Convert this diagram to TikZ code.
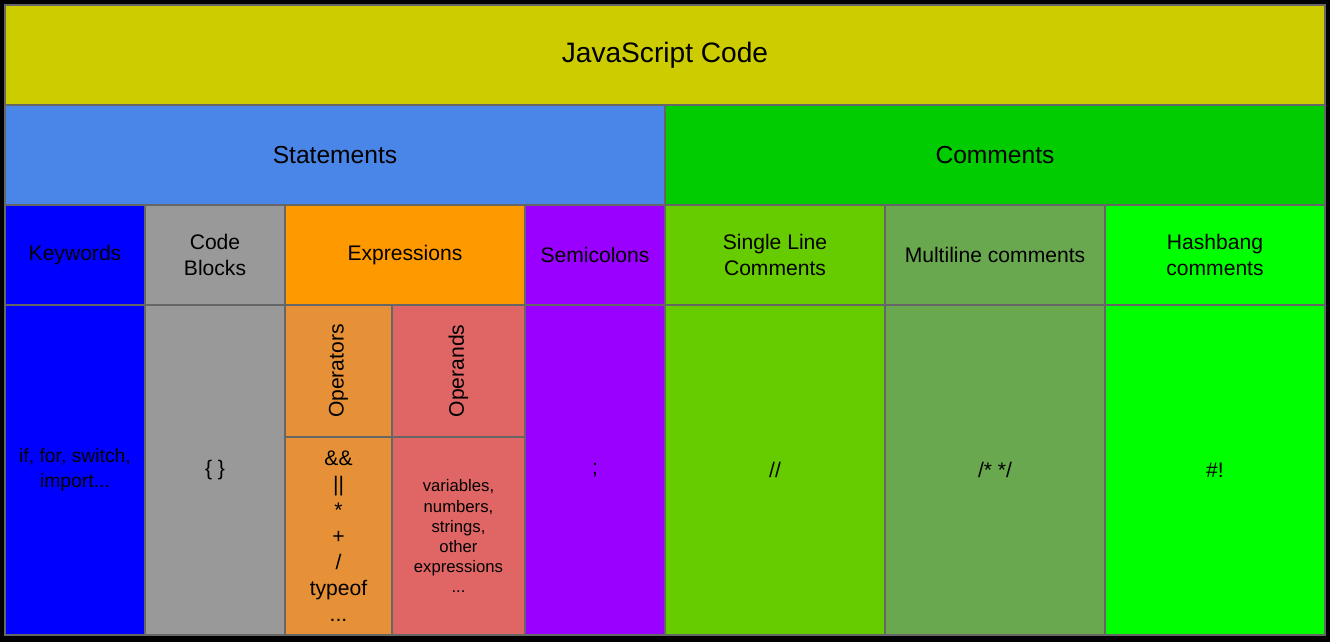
\documentclass[tikz,border=0pt]{standalone}
\usepackage{fontspec}
\setmainfont{Liberation Sans}
\usetikzlibrary{positioning}
\definecolor{cellborder}{HTML}{666666}
\definecolor{jsyellow}{HTML}{CCCC00}
\definecolor{stmtblue}{HTML}{4A86E8}
\definecolor{commgreen}{HTML}{00CC00}
\definecolor{kwblue}{HTML}{0000FF}
\definecolor{blockgray}{HTML}{999999}
\definecolor{exorange}{HTML}{FF9900}
\definecolor{semipurple}{HTML}{9900FF}
\definecolor{slgreen}{HTML}{66CC00}
\definecolor{mlgreen}{HTML}{6AA84F}
\definecolor{hbgreen}{HTML}{00FF00}
\definecolor{oporange}{HTML}{E69138}
\definecolor{opdred}{HTML}{E06666}

\begin{document}
\begin{tikzpicture}
		[   cell/.style={draw=cellborder,line width=1.1pt,fill=#1,inner sep=2pt,align=center,
			font=\fontsize{12}{14.8}\selectfont},
		]
		\tikzset{big text/.style={font=\fontsize{#1}{#1}\selectfont}}
		% black frame
		\fill[black] (0,0) rectangle (26.6,-12.84);
		\useasboundingbox (0,0) rectangle (26.6,-12.84);
		
		\node[cell=jsyellow,big text=16,minimum width=26.4cm,minimum height=2cm] (js) at (13.3,-1.1) {JavaScript Code};
		
		\node[cell=stmtblue,big text=14,minimum width=13.2cm,minimum height=2cm] (stmt) at (6.7,-3.1) {Statements};
		\node[cell=commgreen,big text=14,minimum width=13.2cm,minimum height=2cm] (comm) at (19.9,-3.1) {Comments};
		
		\node[cell=kwblue,minimum width=2.8cm,minimum height=2cm] (kw) at (1.5,-5.1) {Keywords};
		\node[cell=blockgray,minimum width=2.8cm,minimum height=2cm] (cb) at (4.3,-5.1) {Code\\Blocks};
		\node[cell=exorange,minimum width=4.8cm,minimum height=2cm] (ex) at (8.1,-5.1) {Expressions};
		\node[cell=semipurple,minimum width=2.8cm,minimum height=2cm] (semi) at (11.9,-5.1) {Semicolons};
		\node[cell=slgreen,minimum width=4.4cm,minimum height=2cm] (sl) at (15.5,-5.1) {Single Line\\Comments};
		\node[cell=mlgreen,minimum width=4.4cm,minimum height=2cm] (ml) at (19.9,-5.1) {Multiline comments};
		\node[cell=hbgreen,minimum width=4.4cm,minimum height=2cm] (hb) at (24.3,-5.1) {Hashbang\\comments};
		
		\node[cell=kwblue,font=\fontsize{11}{13.7}\selectfont,minimum width=2.8cm,minimum height=6.6cm] (kw-1) at (1.5,-9.4) {if, for, switch,\\import...};
		\node[cell=blockgray,minimum width=2.8cm,minimum height=6.6cm] (cb-1) at (4.3,-9.4) {\{ \}};
		
		\node[cell=oporange,rotate=90,minimum width=2.64cm,minimum height=2.14cm] (op) at (6.77,-7.42) {Operators};
		\node[cell=opdred,rotate=90,minimum width=2.64cm,minimum height=2.66cm] (opd) at (9.17,-7.42) {Operands};
		\node[cell=oporange,minimum width=2.14cm,minimum height=3.96cm] (op-1) at (6.77,-10.72)
			{\&\&\\||\\*\\+\\/\\typeof\\...};
		\node[cell=opdred,font=\fontsize{9.5}{11.4}\selectfont,minimum width=2.66cm,minimum height=3.96cm] (opd-1) at (9.17,-10.72)
			{variables,\\numbers,\\strings,\\other\\expressions\\...};
		
		\node[cell=semipurple,minimum width=2.8cm,minimum height=6.6cm] (semi-1) at (11.9,-9.4) {;};
		\node[cell=slgreen,minimum width=4.4cm,minimum height=6.6cm] (sl-1) at (15.5,-9.4) {//};
		\node[cell=mlgreen,minimum width=4.4cm,minimum height=6.6cm] (ml-1) at (19.9,-9.4) {/* */};
		\node[cell=hbgreen,minimum width=4.4cm,minimum height=6.6cm] (hb-1) at (24.3,-9.4) {\#!};
		
\end{tikzpicture}
\end{document}
